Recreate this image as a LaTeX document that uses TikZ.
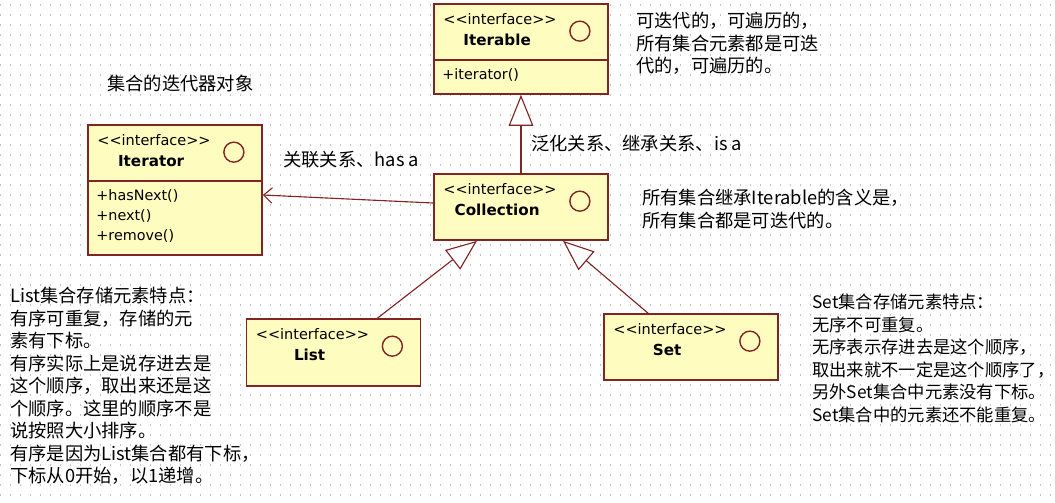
\documentclass[tikz,border=0pt]{standalone}
\usepackage{fontspec}
\setmainfont{Noto Sans CJK SC}
\newfontfamily\umlfont{DejaVu Sans}
\usetikzlibrary{arrows.meta,calc}
\definecolor{umlfill}{RGB}{255,252,192}
\definecolor{umlline}{RGB}{128,36,36}
\definecolor{dotgray}{RGB}{196,196,196}
\newcommand{\stereotype}{<\kern0pt<interface>\kern0pt>}
\tikzstyle{iface}=[rectangle,draw=umlline,fill=umlfill,line width=1.2pt,minimum width=4.35cm,inner sep=0pt]
\tikzstyle{stereo}=[anchor=west,inner sep=0pt,font=\umlfont\fontsize{10.3}{12}\selectfont]
\tikzstyle{classname}=[inner sep=0pt,font=\umlfont\bfseries\fontsize{10.8}{12}\selectfont]
\tikzstyle{methods}=[anchor=north west,inner sep=0pt,align=left,font=\umlfont\fontsize{10.2}{14.2}\selectfont]
\tikzstyle{lollipop}=[circle,draw=umlline,line width=1pt,minimum size=0.5cm,inner sep=0pt]
\tikzstyle{divider}=[draw=umlline,line width=1.2pt]
\tikzstyle{generalize}=[draw=umlline,line width=0.8pt,-{Triangle[open,fill=white,length=22pt,width=17.5pt]}]
\tikzstyle{associate}=[draw=umlline,line width=0.8pt,-{Straight Barb[length=6pt,width=11pt]}]
\tikzstyle{note}=[anchor=north west,inner sep=0pt,align=left,font=\fontsize{13}{16}\selectfont]
\tikzstyle{label}=[anchor=west,inner sep=0pt,font=\fontsize{13}{16}\selectfont]

\begin{document}
\begin{tikzpicture}[x=0.025cm,y=-0.025cm]
    \fill[white] (0,0) rectangle (1055,502);
    \useasboundingbox (0,0) rectangle (1055,502);
    % dotted grid behind the diagram
    \foreach \gy in {5,15,...,495}
        \draw[dotgray,line width=0.9pt,dash pattern=on 0.9pt off 6.21pt] (0,\gy) -- (1055,\gy);

    % First we draw the interface boxes
    \foreach \pos/ \name/ \boxh/ \title in {{(521,49)/iterable/2.25cm/Iterable},{(521,207)/collection/1.65cm/Collection},
        {(175,190)/iterator/3.25cm/Iterator},{(333.5,352.5)/list/1.675cm/List},{(691,347)/set/1.65cm/Set}}
    {
        \node[iface,minimum height=\boxh] (\name) at \pos {};
        \node[stereo] (\name-st) at ($(\name.north west)+(10,16)$) {\stereotype};
        \node[classname] (\name-nm) at ($(\name.north west)+(64,37)$) {\title};
        \node[lollipop] (\name-ic) at ($(\name.north east)+(-29,28)$) {};
    }

    % operation compartments
    \draw[divider] ($(iterable.north west)+(0,57)$) -- ($(iterable.north east)+(0,57)$);
    \draw[divider] ($(iterator.north west)+(0,57)$) -- ($(iterator.north east)+(0,57)$);
    \node[methods] (iterable-ops) at ($(iterable.north west)+(9,65)$) {+iterator()};
    \node[methods] (iterator-ops) at ($(iterator.north west)+(9,65)$) {+hasNext()\\+next()\\+remove()};

    % Connect the boxes
    \path[generalize] (collection.north) -- (iterable.south);
    \path[generalize] ($(list.north)+(44,0)$) -- ($(collection.south)+(-44,0)$);
    \path[generalize] ($(set.north)+(-43,0)$) -- ($(collection.south)+(42,0)$);
    \path[associate] ($(collection.west)+(0,-4)$) -- ($(iterator.east)+(0,5)$);

    % labels and notes
    \node[label] (iterator-cap) at (107,84) {集合的迭代器对象};
    \node[label] (hasa) at (283,160) {关联关系、has a};
    \node[label] (isa) at (531,144) {泛化关系、继承关系、is a};
    \node[note] (iterable-note) at (636,12) {可迭代的，可遍历的，\\所有集合元素都是可迭\\代的，可遍历的。};
    \node[note] (collection-note) at (642,189) {所有集合继承Iterable的含义是，\\所有集合都是可迭代的。};
    \node[note] (list-note) at (10,287) {List集合存储元素特点：\\有序可重复，存储的元\\素有下标。\\有序实际上是说存进去是\\这个顺序，取出来还是这\\个顺序。这里的顺序不是\\说按照大小排序。\\有序是因为List集合都有下标，\\下标从0开始，以1递增。};
    \node[note,font=\fontsize{12.3}{16}\selectfont] (set-note) at (812,294) {Set集合存储元素特点：\\无序不可重复。\\无序表示存进去是这个顺序，\\取出来就不一定是这个顺序了，\\另外Set集合中元素没有下标。\\Set集合中的元素还不能重复。};
\end{tikzpicture}
\end{document}
